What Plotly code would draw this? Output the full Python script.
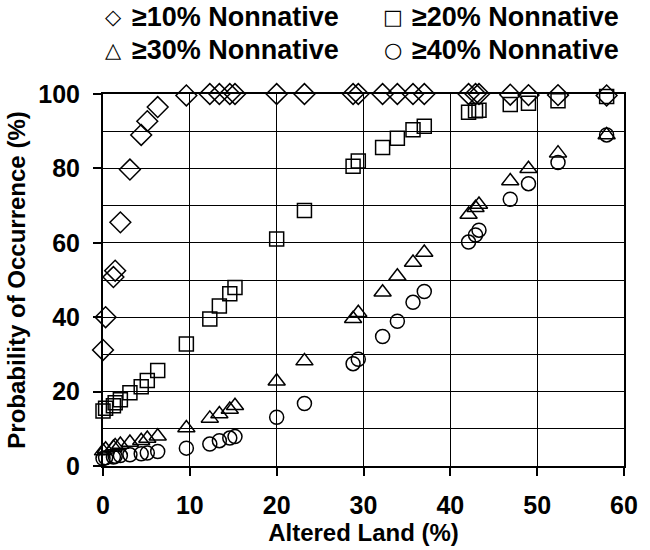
import plotly.graph_objects as go

altered_land = [0, 0.3, 1.2, 1.4, 2.0, 3.1, 4.4, 5.1, 6.3, 9.6, 12.3, 13.4, 14.6, 15.2,
                20.0, 23.2, 28.8, 29.4, 32.2, 33.9, 35.7, 37.0, 42.1, 42.9, 43.3,
                46.9, 49.0, 52.4, 58.0]

p10 = [31.2, 40.0, 50.8, 52.5, 65.5, 79.7, 89.0, 92.7, 96.5, 99.6, 100, 100, 100, 100,
       100, 100, 100, 100, 100, 100, 100, 100, 100, 100, 100,
       99.8, 99.7, 99.7, 99.6]
p20 = [14.8, 15.5, 16.2, 17.0, 17.8, 19.7, 21.3, 23.0, 25.7, 32.8, 39.5, 43.0, 46.3, 48.0,
       61.0, 68.7, 80.6, 82.0, 85.6, 88.1, 90.4, 91.3, 95.1, 95.5, 95.6,
       97.2, 97.5, 98.2, 99.3]
p30 = [4.0, 4.5, 5.0, 5.4, 5.8, 6.3, 6.8, 7.4, 8.0, 10.2, 12.8, 14.0, 15.2, 16.2,
       22.8, 28.2, 39.6, 41.2, 46.7, 51.0, 54.7, 57.4, 67.6, 69.4, 70.3,
       76.6, 79.9, 84.1, 89.0]
p40 = [2.0, 2.2, 2.4, 2.6, 2.8, 3.0, 3.3, 3.5, 3.9, 4.8, 5.9, 6.8, 7.5, 7.9,
       13.1, 16.8, 27.5, 28.7, 34.8, 38.9, 44.0, 46.9, 60.2, 62.1, 63.4,
       71.7, 75.9, 81.6, 89.0]

series_names = ["≥10% Nonnative", "≥20% Nonnative", "≥30% Nonnative", "≥40% Nonnative"]
series_values = [p10, p20, p30, p40]
legend_glyphs = ["◇", "□", "△", "○"]
symbols = ["diamond-open", "square-open", "triangle-up-open", "circle-open"]
sizes = [16, 14, 15, 14]

FONT = "Arial, Liberation Sans, sans-serif"
W, H = 650, 550
ML, MR, MT, MB = 103, 15, 94, 82
PW, PH = W - ML - MR, H - MT - MB

fig = go.Figure()
for name, vals, sym, sz in zip(series_names, series_values, symbols, sizes):
    fig.add_trace(go.Scatter(
        x=altered_land, y=vals, mode="markers", name=name,
        marker=dict(symbol=sym, size=sz, color="black", line=dict(color="black", width=1.5)),
        cliponaxis=False, showlegend=False,
    ))

# legend drawn as text, 2 columns x 2 rows above the plot (positions in pixels)
col_sym_px = [114, 399]
col_txt_px = [131, 416]
row_px = [17, 50]
annotations = []
for i, (name, glyph) in enumerate(zip(series_names, legend_glyphs)):
    r, c = divmod(i, 2)
    yp = (H - MB - row_px[r]) / PH
    annotations.append(dict(
        text=glyph, xref="paper", yref="paper",
        x=(col_sym_px[c] - ML) / PW, y=yp, xanchor="center", yanchor="middle",
        showarrow=False, font=dict(family="DejaVu Sans", size=21, color="black"),
    ))
    annotations.append(dict(
        text="<b>" + name + "</b>", xref="paper", yref="paper",
        x=(col_txt_px[c] - ML) / PW, y=yp, xanchor="left", yanchor="middle",
        showarrow=False, font=dict(family=FONT, size=27, color="black"),
    ))

fig.update_layout(
    width=W, height=H,
    margin=dict(l=ML, r=MR, t=MT, b=MB),
    paper_bgcolor="white", plot_bgcolor="white",
    font=dict(family=FONT, size=25, color="black"),
    showlegend=False,
    annotations=annotations,
    xaxis=dict(
        range=[0, 60], dtick=10, tick0=0,
        showgrid=True, gridcolor="black", gridwidth=1,
        showline=True, linecolor="black", linewidth=2, mirror=True,
        ticks="outside", ticklen=8, tickwidth=1.5, tickcolor="black",
        zeroline=False, ticklabelstandoff=8,
        tickfont=dict(family=FONT, size=25, color="black"),
        title=dict(text="<b>Altered Land (%)</b>", font=dict(family=FONT, size=24, color="black"), standoff=2),
    ),
    yaxis=dict(
        range=[0, 100], dtick=20, tick0=0,
        showgrid=True, gridcolor="black", gridwidth=1,
        minor=dict(dtick=10, showgrid=True, gridcolor="black", gridwidth=1),
        showline=True, linecolor="black", linewidth=2, mirror=True,
        ticks="outside", ticklen=8, tickwidth=1.5, tickcolor="black",
        zeroline=False, ticklabelstandoff=8,
        tickfont=dict(family=FONT, size=25, color="black"),
        title=dict(text="<b>Probability of Occurrence (%)</b>", font=dict(family=FONT, size=24, color="black"), standoff=6),
    ),
)
fig.update_xaxes(tickprefix="<b>", ticksuffix="</b>")
fig.update_yaxes(tickprefix="<b>", ticksuffix="</b>")

fig.write_html(
    "out.html",
    config={"displayModeBar": False},
    post_script="document.body.style.margin='0';document.body.style.overflow='hidden';",
)
